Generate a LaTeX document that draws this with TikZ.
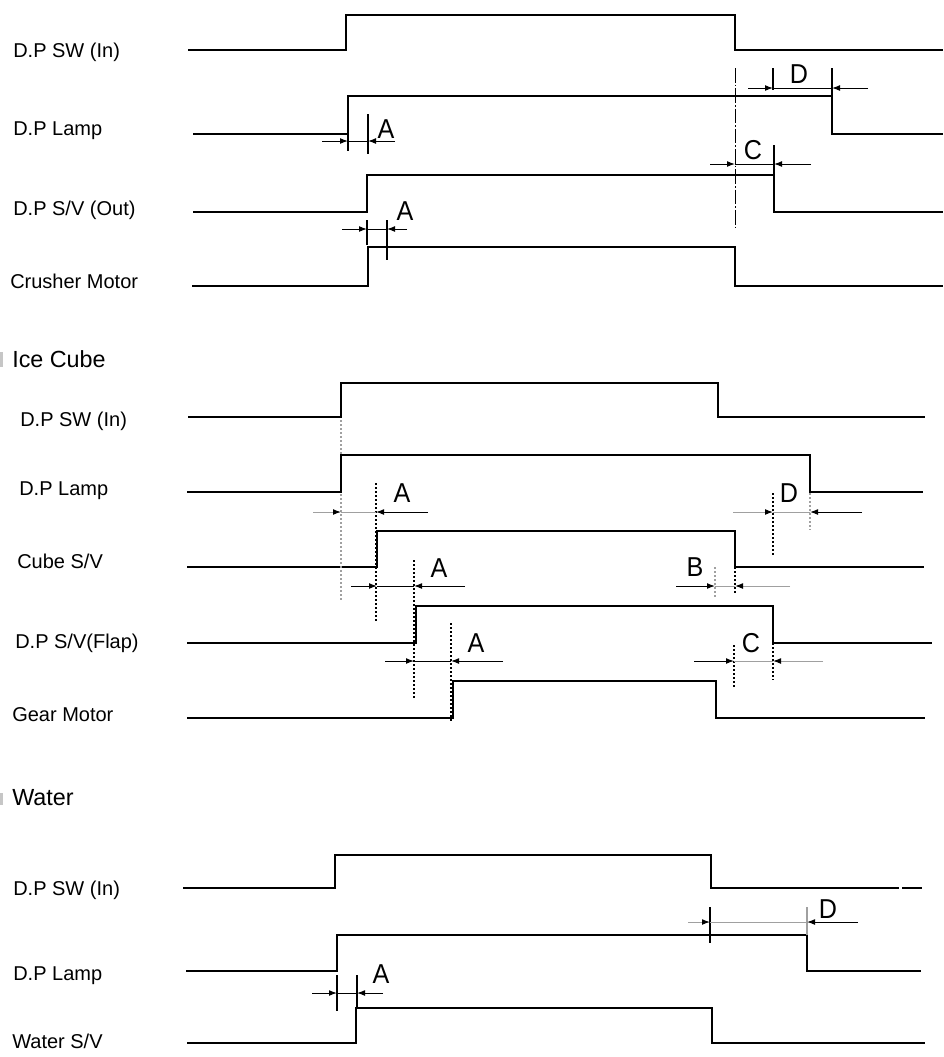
\documentclass[tikz,border=0pt]{standalone}
\usepackage{fontspec}
\setmainfont{Liberation Sans}
\usetikzlibrary{arrows.meta}
\definecolor{lg}{RGB}{160,160,160}
\tikzset{
  wave/.style={line width=1.9pt, line join=miter, line cap=butt},
  wavethin/.style={line width=1.25pt, line join=miter},
  dimline/.style={line width=0.75pt},
  ticky/.style={line width=0.85pt},
  arr/.style={dimline, -{Latex[length=6pt,width=4.4pt,color=black]}},
  dotv/.style={line width=0.9pt, dash pattern=on 1.5pt off 1.5pt},
  dashdotv/.style={line width=0.75pt, dash pattern=on 11pt off 1.5pt on 1.2pt off 1.5pt},
  lbl/.style={anchor=base west, inner sep=0pt, font=\fontsize{15}{18}\selectfont},
  hdr/.style={anchor=base west, inner sep=0pt, font=\fontsize{17.5}{21}\selectfont},
  letter/.style={anchor=base, inner sep=0pt, font=\fontsize{20.5}{24}\selectfont, xscale=0.92}
}
\begin{document}
\begin{tikzpicture}[x=0.75pt,y=-0.75pt]
\useasboundingbox (0,0) rectangle (943,1057);
\fill[white] (0,0) rectangle (943,1057);

% ---------------- top section ----------------
\node[lbl] (t1) at (13,57) {D.P SW (In)};
\node[lbl] (t2) at (13,135) {D.P Lamp};
\node[lbl] (t3) at (13,215) {D.P S/V (Out)};
\node[lbl] (t4) at (10,288) {Crusher Motor};

\draw[wave] (188,50) -- (346,50) -- (346,15) -- (735,15) -- (735,50) -- (943,50);
\draw[wavethin] (193,134) -- (348,134) -- (348,96) -- (832,96) -- (832,134) -- (943,134);
\draw[wavethin] (193,212) -- (210,212);
\draw[wave] (209,212) -- (367,212) -- (367,175) -- (774,175) -- (774,212) -- (943,212);
\draw[wave] (192,286) -- (368,286) -- (368,247) -- (735,247) -- (735,286) -- (943,286);

\draw[dashdotv] (735,68) -- (735,230);

% A (lamp)
\draw[ticky] (348,114) -- (348,151);
\draw[ticky] (368,114) -- (368,154);
\draw[arr] (322,141) -- (348,141);
\draw[dimline] (348,141) -- (368,141);
\draw[arr] (395,141) -- (368,141);
\node[letter] (ta1) at (386,138) {A};
% A (S/V out)
\draw[ticky] (367,220) -- (367,245);
\draw[ticky] (387,220) -- (387,260);
\draw[arr] (342,229) -- (367,229);
\draw[dimline] (367,229) -- (387,229);
\draw[arr] (407,229) -- (387,229);
\node[letter] (ta2) at (405,220) {A};
% D
\draw[ticky] (773,68) -- (773,90);
\draw[ticky] (832,68) -- (832,96);
\draw[arr] (748,88) -- (773,88);
\draw[dimline] (773,88) -- (832,88);
\draw[arr] (868,88) -- (832,88);
\node[letter] (td) at (799,83) {D};
% C
\draw[ticky] (774,145) -- (774,175);
\draw[arr] (710,164) -- (735,164);
\draw[dimline] (735,164) -- (774,164);
\draw[arr] (811,164) -- (774,164);
\node[letter] (tc) at (753,159) {C};

% ---------------- Ice Cube ----------------
\fill[lg!60] (0,352) rectangle (2.5,367);
\node[hdr] (ice) at (12,367) {Ice Cube};
\node[lbl] (m1) at (20,426) {D.P SW (In)};
\node[lbl] (m2) at (19,495) {D.P Lamp};
\node[lbl] (m3) at (17,568) {Cube S/V};
\node[lbl] (m4) at (15,648) {D.P S/V(Flap)};
\node[lbl] (m5) at (12,721) {Gear Motor};

\draw[wave] (188,417) -- (341,417) -- (341,383) -- (718,383) -- (718,417) -- (925,417);
\draw[wave] (187,492) -- (341,492) -- (341,455) -- (810,455) -- (810,492) -- (923,492);
\draw[wave] (187,567) -- (377,567) -- (377,531) -- (735,531) -- (735,567) -- (924,567);
\draw[wave] (187,643) -- (416,643) -- (416,606) -- (773,606) -- (773,643) -- (932,643);
\draw[wave] (187,718) -- (453,718) -- (453,681) -- (716,681) -- (716,718) -- (925,718);

% verticals
\draw[dotv, lg] (341,420) -- (341,455);
\draw[dotv, lg] (341,494) -- (341,602);
\draw[dotv] (376,483) -- (376,623);
\draw[dotv] (414,560) -- (414,698);
\draw[dotv] (451,623) -- (451,722);
% A1
\draw[arr, lg] (313,512) -- (341,512);
\draw[dimline, lg] (341,512) -- (376,512);
\draw[arr] (428,512) -- (376,512);
\node[letter] (ma1) at (402,502) {A};
% A2
\draw[arr] (351,586) -- (377,586);
\draw[dimline] (377,586) -- (414,586);
\draw[arr] (465,586) -- (414,586);
\node[letter] (ma2) at (439,577) {A};
% A3
\draw[arr] (385,661) -- (414,661);
\draw[dimline] (414,661) -- (451,661);
\draw[arr] (503,661) -- (451,661);
\node[letter] (ma3) at (476,652) {A};
% D
\draw[dotv] (773,493) -- (773,555);
\draw[dotv, lg] (810,493) -- (810,530);
\draw[arr, lg] (733,512) -- (773,512);
\draw[dimline, lg] (773,512) -- (810,512);
\draw[arr] (862,512) -- (810,512);
\node[letter] (md) at (789,502) {D};
% B
\draw[dotv, lg] (715,567) -- (715,598);
\draw[dotv] (735,567) -- (735,593);
\draw[arr] (676,586) -- (715,586);
\draw[dimline, lg] (715,586) -- (735,586);
\draw[arr, lg] (790,586) -- (735,586);
\node[letter] (mb) at (695,576) {B};
% C
\draw[dotv] (734,645) -- (734,688);
\draw[dotv] (773,643) -- (773,680);
\draw[arr] (694,661) -- (734,661);
\draw[dimline, lg] (734,661) -- (773,661);
\draw[arr, lg] (823,661) -- (773,661);
\node[letter] (mc) at (751,652) {C};

% ---------------- Water ----------------
\fill[lg!60] (0,793) rectangle (2.5,805);
\node[hdr] (water) at (12,805) {Water};
\node[lbl] (b1) at (13,895) {D.P SW (In)};
\node[lbl] (b2) at (13,980) {D.P Lamp};
\node[lbl] (b3) at (12,1048) {Water S/V};

\draw[wave] (183,888) -- (335,888) -- (335,855) -- (711,855) -- (711,888) -- (899,888);
\draw[wave] (902,888) -- (922,888);
\draw[wavethin] (186,971) -- (337,971) -- (337,935) -- (807,935) -- (807,971) -- (921,971);
\draw[wavethin] (187,1043) -- (356,1043) -- (356,1008) -- (712,1008) -- (712,1043) -- (925,1043);

% A
\draw[ticky] (337,975) -- (337,1011);
\draw[ticky] (357,975) -- (357,1008);
\draw[arr] (312,993) -- (337,993);
\draw[dimline] (337,993) -- (357,993);
\draw[arr] (383,993) -- (357,993);
\node[letter] (ba) at (381,983) {A};
% D
\draw[ticky] (710,907) -- (710,943);
\draw[ticky, lg] (807,907) -- (807,935);
\draw[arr, lg] (688,922) -- (710,922);
\draw[dimline, lg] (710,922) -- (807,922);
\draw[arr] (858,922) -- (807,922);
\node[letter] (bd) at (828,918) {D};
\end{tikzpicture}
\end{document}
